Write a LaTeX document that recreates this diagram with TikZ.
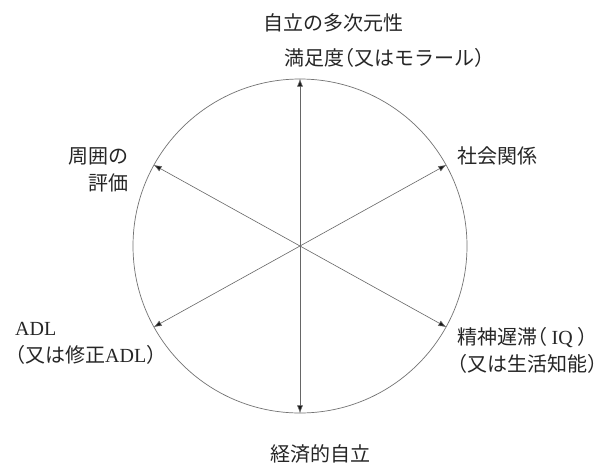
\documentclass[tikz,border=0pt]{standalone}
\usepackage{fontspec}
\setmainfont{Noto Sans CJK JP}[RawFeature={+halt}]
\newfontfamily\lat{Liberation Serif}
\usetikzlibrary{arrows.meta}
\tikzset{
  lbl/.style={inner sep=0pt, text=black!85, font=\fontsize{20}{27}\selectfont},
  ray/.style={draw=black!60, line width=0.6pt, -{Latex[length=8pt,width=6pt,fill=black!90]}},
}
\begin{document}
\begin{tikzpicture}[x=1pt,y=-1pt]
\useasboundingbox[fill=white] (0,0) rectangle (615,466);
\node[circle, draw=black!55, line width=0.7pt, minimum size=334pt, inner sep=0pt] (circ) at (300,246) {};
\coordinate (c) at (300,246);
\draw[ray] (c) -- (circ.90);
\draw[ray] (c) -- (circ.270);
\draw[ray] (c) -- (circ.29);
\draw[ray] (c) -- (circ.151);
\draw[ray] (c) -- (circ.209);
\draw[ray] (c) -- (circ.331);
\node[lbl] (title) at (333,23) {自立の多次元性};
\node[lbl, anchor=west] (top) at (284,58) {満足度（又はモラール）};
\node[lbl, anchor=west] (soc) at (457,156) {社会関係};
\node[lbl, anchor=east, align=right] (env) at (129,169.5) {周囲の\\評価};
\node[lbl, anchor=west, align=left] (adl) at (15,343.5) {{\lat ADL}\\（又は修正{\lat ADL}）};
\node[lbl, anchor=west, align=left] (iq) at (457,350) {精神遅滞（ {\lat IQ} ）\\（又は生活知能）};
\node[lbl] (eco) at (320,454) {経済的自立};
\end{tikzpicture}
\end{document}
